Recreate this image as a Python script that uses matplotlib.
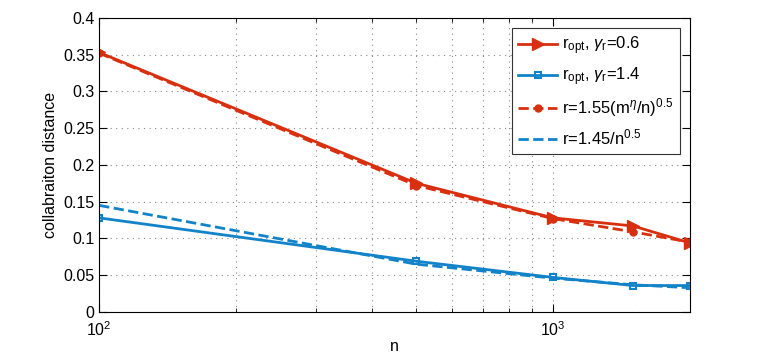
import matplotlib
matplotlib.use("Agg")
import matplotlib.pyplot as plt
from matplotlib.ticker import NullFormatter

plt.rcParams['font.family'] = ['Liberation Sans', 'DejaVu Sans']
plt.rcParams['mathtext.fontset'] = 'custom'
plt.rcParams['mathtext.rm'] = 'Liberation Sans'
plt.rcParams['mathtext.it'] = 'Liberation Sans:italic'

n = [100, 500, 1000, 1500, 2000]
r_opt_06 = [0.353, 0.175, 0.128, 0.117, 0.094]
r_opt_14 = [0.128, 0.069, 0.047, 0.036, 0.036]
r_fit_06 = [0.352, 0.172, 0.127, 0.109, 0.095]
r_fit_14 = [0.145, 0.065, 0.046, 0.037, 0.033]

red = "#d8300f"
blue = "#1283c9"

fig = plt.figure(figsize=(7.63, 3.58), dpi=100)
ax = fig.add_axes([0.13, 0.1285, 0.774, 0.8215])

ax.plot(n, r_fit_06, '--', color=red, lw=2, marker='o', ms=5,
        label=r'r=1.55(m$^{\eta}$/n)$^{0.5}$')
ax.plot(n, r_fit_14, '--', color=blue, lw=2, label=r'r=1.45/n$^{0.5}$')
ax.plot(n, r_opt_06, '-', color=red, lw=2, marker='>', ms=8,
        label=r'r$_{\rm opt}$, $\gamma_{\rm r}$=0.6')
ax.plot(n, r_opt_14, '-', color=blue, lw=2, marker='s', ms=5, mfc='none', mew=1.5,
        label=r'r$_{\rm opt}$, $\gamma_{\rm r}$=1.4')

ax.set_xscale('log')
ax.set_xlim(100, 2000)
ax.set_ylim(0, 0.4)
ax.set_yticks([0, 0.05, 0.1, 0.15, 0.2, 0.25, 0.3, 0.35, 0.4])
ax.set_yticklabels(['0', '0.05', '0.1', '0.15', '0.2', '0.25', '0.3', '0.35', '0.4'])
ax.xaxis.set_minor_formatter(NullFormatter())
ax.tick_params(which='both', direction='in', top=True, right=True, labelsize=11.5)
ax.tick_params(which='major', length=6)
ax.tick_params(which='minor', length=3)
ax.tick_params(axis='x', which='both', pad=6)
ax.grid(True, which='major', ls=(0, (1, 4)), color='#888888', lw=0.8)
ax.grid(True, which='minor', axis='x', ls=(0, (1, 4)), color='#888888', lw=0.8)
ax.set_xlabel('n', fontsize=11.5, labelpad=0)
ax.set_ylabel('collabraiton distance', fontsize=11.5, labelpad=4)

handles, labels = ax.get_legend_handles_labels()
order = [2, 3, 0, 1]
leg = ax.legend([handles[i] for i in order], [labels[i] for i in order],
                loc='upper right', fontsize=12, fancybox=False, framealpha=1,
                edgecolor='#333333', handlelength=2.3, handletextpad=0.3,
                labelspacing=0.5, borderaxespad=0.6, borderpad=0.4)
leg.get_frame().set_linewidth(0.8)

fig.savefig('out.png', dpi=100)
